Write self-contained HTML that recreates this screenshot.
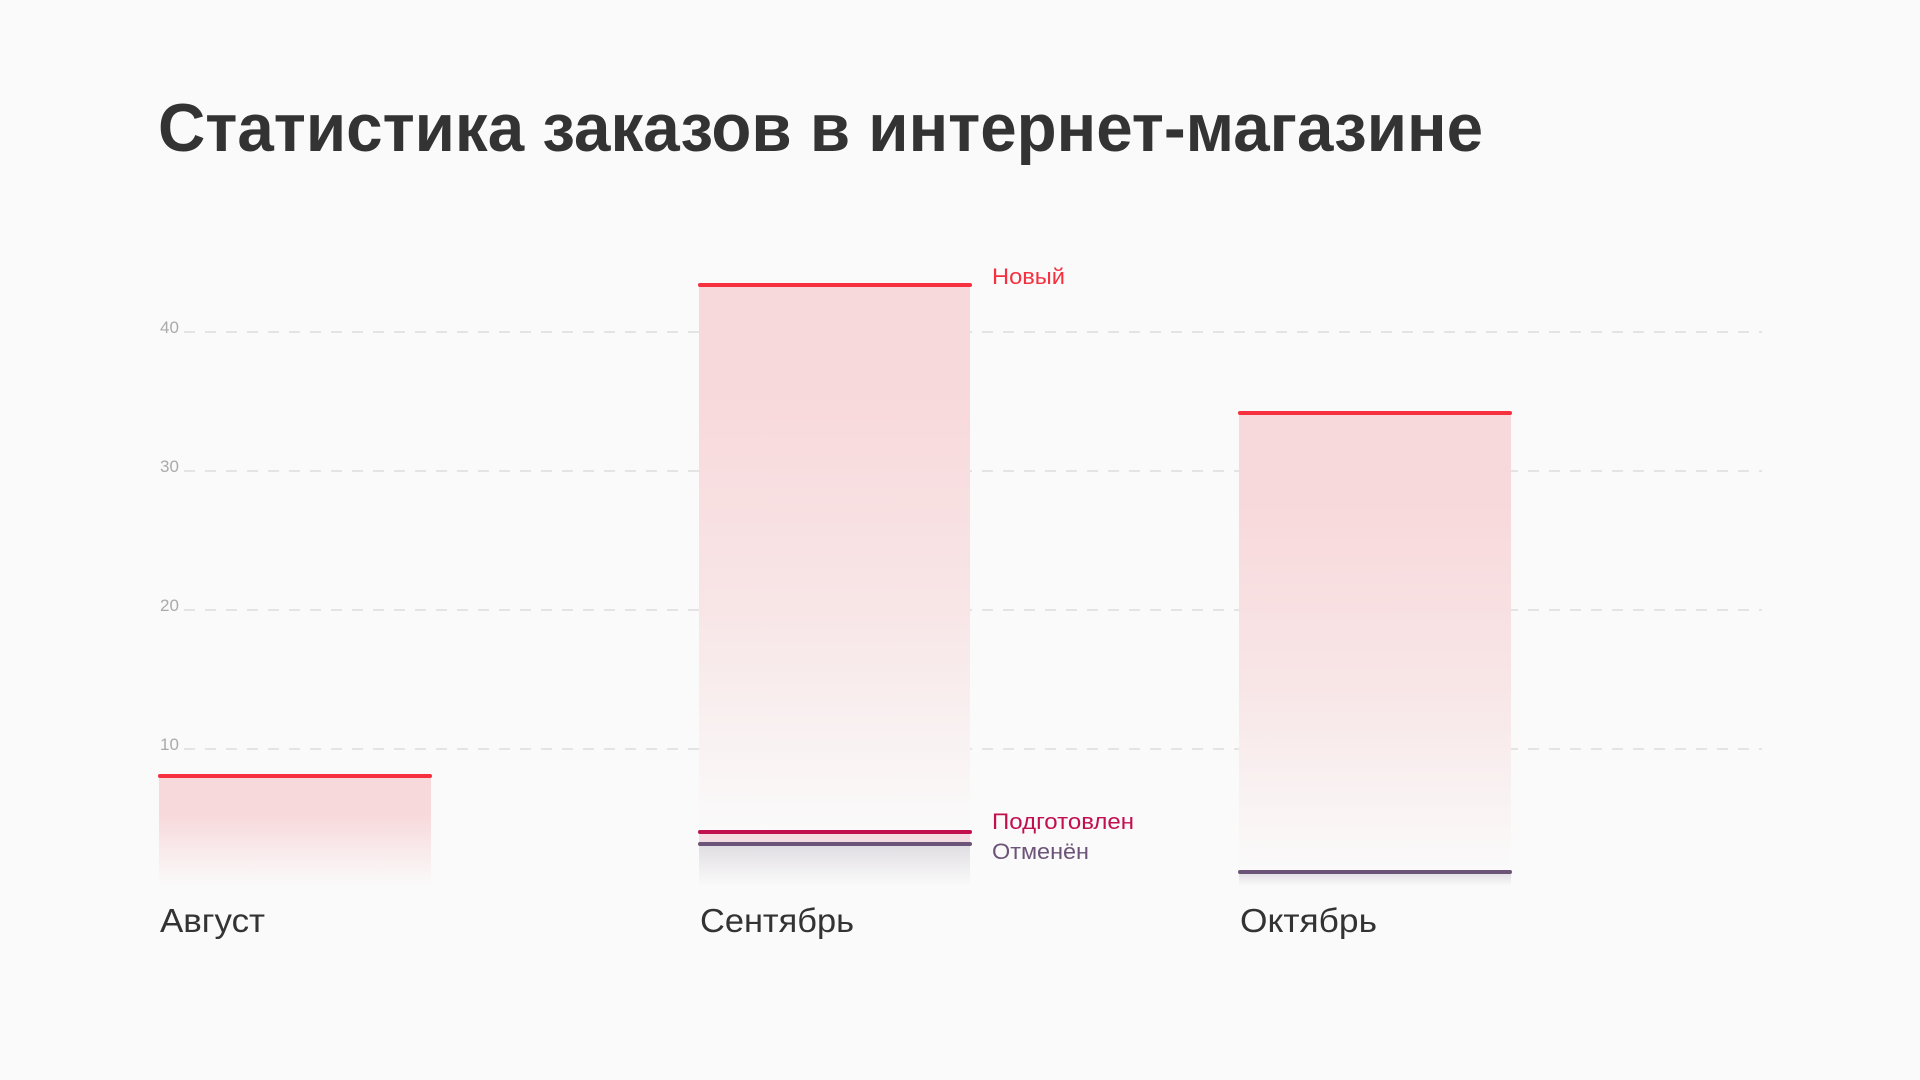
<!DOCTYPE html>
<html><head><meta charset="utf-8"><style>
body{margin:0;background:#fafafa;}
svg{display:block}
text{font-family:"Liberation Sans","DejaVu Sans",sans-serif}
</style></head><body>
<svg width="1920" height="1080" viewBox="0 0 1920 1080" xmlns="http://www.w3.org/2000/svg">
<defs>
<linearGradient id="pk" x1="0" y1="0" x2="0" y2="1">
<stop offset="0" stop-color="#f8d9db"/><stop offset="0.35" stop-color="#f8d9db"/><stop offset="1" stop-color="#fafafa"/>
</linearGradient>
<linearGradient id="pk2" x1="0" y1="0" x2="0" y2="1">
<stop offset="0" stop-color="#f8d9db"/><stop offset="0.2" stop-color="#f8d9db"/><stop offset="0.6" stop-color="#f8e6e7"/><stop offset="1" stop-color="#fafafa"/>
</linearGradient>
<linearGradient id="gr" x1="0" y1="0" x2="0" y2="1">
<stop offset="0" stop-color="#e0dde2"/><stop offset="1" stop-color="#fafafa"/>
</linearGradient>
</defs>
<text x="158" y="151" font-size="68" font-weight="bold" fill="#333" textLength="1325" lengthAdjust="spacingAndGlyphs">Статистика заказов в интернет-магазине</text>
<g stroke="#dcdcdc" stroke-width="1.5" stroke-dasharray="11 10">
<line x1="184" y1="332" x2="1762" y2="332"/>
<line x1="184" y1="471" x2="1762" y2="471"/>
<line x1="184" y1="610" x2="1762" y2="610"/>
<line x1="184" y1="749" x2="1762" y2="749"/>
</g>
<g font-size="17" fill="#aaa">
<text x="160" y="333">40</text><text x="160" y="472">30</text><text x="160" y="611">20</text><text x="160" y="750">10</text>
</g>
<!-- August -->
<rect x="159" y="776" width="272" height="110" fill="url(#pk)"/>
<line x1="160" y1="776" x2="430" y2="776" stroke="#f6303e" stroke-width="4" stroke-linecap="round"/>
<!-- September -->
<rect x="699" y="285" width="271" height="547" fill="url(#pk2)"/>
<rect x="699" y="832" width="271" height="12" fill="#f3dde2"/>
<rect x="699" y="844" width="271" height="42" fill="url(#gr)"/>
<line x1="700" y1="285" x2="970" y2="285" stroke="#f6303e" stroke-width="4" stroke-linecap="round"/>
<line x1="700" y1="832" x2="970" y2="832" stroke="#c2104f" stroke-width="4" stroke-linecap="round"/>
<line x1="700" y1="844" x2="970" y2="844" stroke="#6b5478" stroke-width="4" stroke-linecap="round"/>
<text x="992" y="284" font-size="22" fill="#f6303e" textLength="73" lengthAdjust="spacingAndGlyphs">Новый</text>
<text x="992" y="829" font-size="22" fill="#c2104f" textLength="142" lengthAdjust="spacingAndGlyphs">Подготовлен</text>
<text x="992" y="859" font-size="22" fill="#6b5478" textLength="97" lengthAdjust="spacingAndGlyphs">Отменён</text>
<!-- October -->
<rect x="1239" y="413" width="272" height="459" fill="url(#pk2)"/>
<rect x="1239" y="872" width="272" height="14" fill="url(#gr)"/>
<line x1="1240" y1="413" x2="1510" y2="413" stroke="#f6303e" stroke-width="4" stroke-linecap="round"/>
<line x1="1240" y1="872" x2="1510" y2="872" stroke="#6b5478" stroke-width="4" stroke-linecap="round"/>
<g font-size="33" fill="#333">
<text x="160" y="932" textLength="105" lengthAdjust="spacingAndGlyphs">Август</text>
<text x="700" y="932" textLength="154" lengthAdjust="spacingAndGlyphs">Сентябрь</text>
<text x="1240" y="932" textLength="137" lengthAdjust="spacingAndGlyphs">Октябрь</text>
</g>
</svg>
</body></html>
